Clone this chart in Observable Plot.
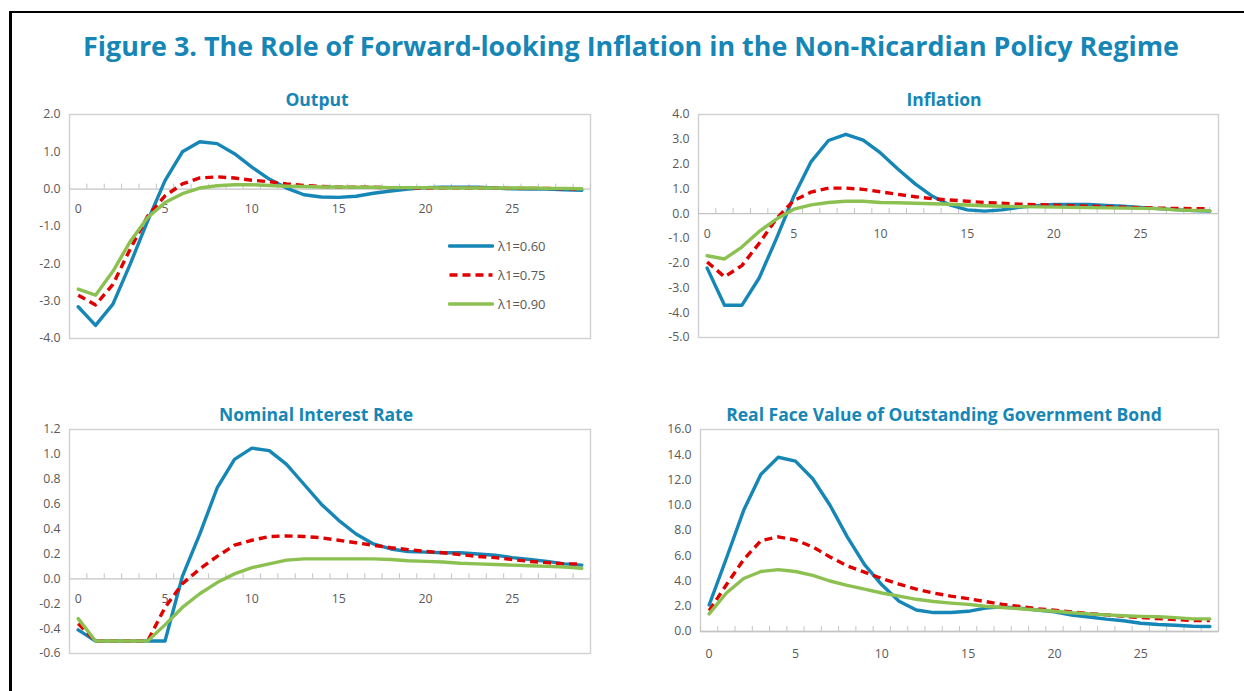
<!DOCTYPE html>
<html><head><meta charset="utf-8">
<script src="https://cdn.jsdelivr.net/npm/d3@7"></script>
<script src="https://cdn.jsdelivr.net/npm/@observablehq/plot@0.6"></script>
<style>
body{margin:0;background:#fff;}
#page{position:relative;width:1244px;height:691px;overflow:hidden;font-family:"Open Sans",sans-serif;background:#fff;}
#border{position:absolute;left:9px;top:11px;width:1250px;height:720px;border-left:3px solid #000;border-top:2px solid #000;}
#title{position:absolute;left:0;width:1262px;top:28px;line-height:36px;text-align:center;font-weight:700;font-size:26.9px;color:#1586b6;white-space:nowrap;}
.ptitle{position:absolute;width:500px;text-align:center;font-weight:700;font-size:17.5px;line-height:20px;color:#1586b6;white-space:nowrap;}
.panel{position:absolute;}
#legend{position:absolute;left:448px;top:231px;font-size:13px;color:#595959;}
#legend .row{display:flex;align-items:center;height:29px;}
#legend svg{margin-right:4px;}
</style>
</head><body>
<div id="page">
  <div id="border"></div>
  <div id="title">Figure 3. The Role of Forward-looking Inflation in the Non-Ricardian Policy Regime</div>
  <div class="ptitle" style="left:67px;top:89px;">Output</div>
  <div class="ptitle" style="left:694px;top:89px;">Inflation</div>
  <div class="ptitle" style="left:66px;top:404px;">Nominal Interest Rate</div>
  <div class="ptitle" style="left:694px;top:404px;">Real Face Value of Outstanding Government Bond</div>
  <div id="p1" class="panel" style="left:20px;top:104px;"></div>
  <div id="p2" class="panel" style="left:650px;top:104px;"></div>
  <div id="p3" class="panel" style="left:20px;top:419px;"></div>
  <div id="p4" class="panel" style="left:650px;top:419px;"></div>
  <div id="legend"></div>
</div>
<script>
// ---------- data ----------
const periods = [0,1,2,3,4,5,6,7,8,9,10,11,12,13,14,15,16,17,18,19,20,21,22,23,24,25,26,27,28,29];
const seriesNames = ["λ1=0.60", "λ1=0.75", "λ1=0.90"];
const xTickLabels = [0, 5, 10, 15, 20, 25];

const outputL60 = [-3.15,-3.65,-3.08,-2.0,-0.85,0.23,1.0,1.27,1.22,0.95,0.59,0.27,0.03,-0.15,-0.21,-0.22,-0.19,-0.11,-0.05,0.0,0.04,0.05,0.05,0.05,0.03,0.01,0.0,0.0,-0.02,-0.03];
const outputL75 = [-2.84,-3.1,-2.55,-1.6,-0.72,-0.18,0.14,0.3,0.33,0.3,0.24,0.2,0.14,0.1,0.07,0.06,0.05,0.05,0.04,0.04,0.03,0.03,0.03,0.03,0.03,0.02,0.02,0.02,0.01,0.0];
const outputL90 = [-2.68,-2.84,-2.2,-1.4,-0.76,-0.36,-0.12,0.03,0.09,0.12,0.12,0.1,0.08,0.07,0.06,0.06,0.05,0.05,0.04,0.04,0.04,0.03,0.03,0.03,0.03,0.03,0.03,0.02,0.02,0.01];

const inflationL60 = [-2.2,-3.7,-3.7,-2.6,-1.0,0.7,2.1,2.95,3.2,2.97,2.45,1.8,1.2,0.7,0.35,0.15,0.1,0.15,0.25,0.32,0.37,0.37,0.37,0.33,0.3,0.25,0.2,0.16,0.12,0.1];
const inflationL75 = [-1.95,-2.55,-2.1,-1.2,-0.2,0.53,0.87,1.03,1.03,0.98,0.88,0.78,0.68,0.6,0.55,0.5,0.45,0.42,0.38,0.36,0.34,0.32,0.3,0.28,0.26,0.24,0.22,0.21,0.2,0.2];
const inflationL90 = [-1.7,-1.83,-1.35,-0.72,-0.22,0.18,0.35,0.45,0.5,0.5,0.45,0.44,0.42,0.4,0.38,0.35,0.32,0.3,0.28,0.27,0.26,0.25,0.24,0.23,0.22,0.21,0.2,0.15,0.13,0.12];

const rateL60 = [-0.41,-0.5,-0.5,-0.5,-0.5,-0.5,0.02,0.36,0.73,0.96,1.05,1.03,0.92,0.76,0.6,0.47,0.36,0.28,0.24,0.22,0.215,0.21,0.21,0.2,0.19,0.17,0.155,0.14,0.12,0.11];
const rateL75 = [-0.36,-0.5,-0.5,-0.5,-0.5,-0.23,-0.04,0.08,0.18,0.27,0.31,0.34,0.345,0.34,0.33,0.31,0.29,0.27,0.25,0.235,0.22,0.21,0.195,0.18,0.17,0.155,0.14,0.13,0.12,0.12];
const rateL90 = [-0.32,-0.5,-0.5,-0.5,-0.5,-0.37,-0.23,-0.12,-0.03,0.04,0.09,0.12,0.15,0.16,0.16,0.16,0.16,0.16,0.155,0.145,0.14,0.135,0.125,0.12,0.115,0.11,0.105,0.1,0.095,0.085];

const bondL60 = [2.1,5.8,9.6,12.45,13.8,13.5,12.1,10.0,7.5,5.3,3.7,2.4,1.7,1.5,1.5,1.6,1.85,1.95,1.85,1.7,1.55,1.3,1.15,0.98,0.85,0.65,0.55,0.5,0.42,0.4];
const bondL75 = [1.65,3.7,5.7,7.2,7.5,7.25,6.7,5.9,5.2,4.7,4.2,3.75,3.35,3.05,2.8,2.6,2.37,2.15,1.98,1.8,1.68,1.55,1.42,1.32,1.2,1.1,1.02,0.95,0.87,0.87];
const bondL90 = [1.4,3.05,4.2,4.75,4.9,4.75,4.45,4.0,3.65,3.35,3.05,2.8,2.55,2.38,2.25,2.15,2.0,1.9,1.8,1.7,1.6,1.48,1.4,1.32,1.25,1.2,1.17,1.1,1.0,1.0];

const outputTicks = [-4,-3,-2,-1,0,1,2];
const inflationTicks = [-5,-4,-3,-2,-1,0,1,2,3,4];
const rateTicks = [-0.6,-0.4,-0.2,0,0.2,0.4,0.6,0.8,1.0,1.2];
const bondTicks = [0,2,4,6,8,10,12,14,16];

// ---------- styling ----------
const colors = ["#1586b6", "#e00000", "#8cc152"];
const dashes = [null, "8,5", null];
const font = "'Open Sans', sans-serif";
const gray = "#595959";

function makePanel(cfg) {
  const lists = cfg.lists;
  const rows = [];
  lists.forEach((vals, s) => vals.forEach((v, i) => rows.push({t: periods[i], v, s})));
  const boundaries = periods.map(p => p - 0.5).concat([periods[periods.length - 1] + 0.5]);
  const lineMarks = [0, 1, 2].map(s => Plot.line(rows.filter(r => r.s === s), {
    x: "t", y: "v", stroke: colors[s], strokeWidth: 3.4,
    strokeDasharray: dashes[s] || undefined, strokeLinejoin: "round", strokeLinecap: dashes[s] ? "butt" : "round"
  }));
  return Plot.plot({
    width: cfg.width, height: cfg.height,
    marginTop: cfg.mt, marginBottom: cfg.mb, marginLeft: cfg.ml, marginRight: cfg.mr,
    style: {fontFamily: font, fontSize: "12px", color: gray, background: "transparent"},
    x: {domain: [-0.5, 29.5], axis: null},
    y: {domain: cfg.yDomain, axis: null},
    marks: [
      Plot.frame({stroke: "#d0d0d0", strokeWidth: 1.4}),
      Plot.axisY(cfg.yTicks, {tickSize: 0, tickPadding: 9, tickFormat: d => d.toFixed(1), fill: gray, fontSize: 12.3, label: null}),
      Plot.ruleY([cfg.axisAt], {stroke: "#c4c4c4", strokeWidth: 1.3}),
      Plot.ruleX(boundaries, {x: d => d, y1: cfg.axisAt, y2: cfg.axisAt, insetTop: -5, stroke: "#c4c4c4", strokeWidth: 1}),
      Plot.text(xTickLabels, {x: d => d, y: cfg.axisAt, dy: cfg.labelDy, text: d => String(d), fill: gray, fontSize: 12.3}),
      ...lineMarks
    ]
  });
}

document.getElementById("p1").append(makePanel({
  lists: [outputL60, outputL75, outputL90], yDomain: [-4, 2], yTicks: outputTicks, axisAt: 0, labelDy: 20,
  width: 580, height: 256, mt: 10, mb: 22, ml: 49, mr: 10
}));
document.getElementById("p2").append(makePanel({
  lists: [inflationL60, inflationL75, inflationL90], yDomain: [-5, 4], yTicks: inflationTicks, axisAt: 0, labelDy: 20,
  width: 578, height: 255, mt: 10, mb: 22, ml: 48, mr: 10
}));
document.getElementById("p3").append(makePanel({
  lists: [rateL60, rateL75, rateL90], yDomain: [-0.6, 1.2], yTicks: rateTicks, axisAt: 0, labelDy: 20,
  width: 580, height: 254, mt: 10, mb: 20, ml: 49, mr: 10
}));
document.getElementById("p4").append(makePanel({
  lists: [bondL60, bondL75, bondL90], yDomain: [0, 16], yTicks: bondTicks, axisAt: 0, labelDy: 23,
  width: 578, height: 250, mt: 10, mb: 38, ml: 50, mr: 10
}));

// legend
const legend = document.getElementById("legend");
seriesNames.forEach((name, s) => {
  const row = document.createElement("div");
  row.className = "row";
  row.innerHTML = `<svg width="46" height="6"><line x1="1.5" x2="44.5" y1="3" y2="3" stroke="${colors[s]}" stroke-width="3.4" stroke-linecap="${dashes[s] ? "butt" : "round"}" ${dashes[s] ? `stroke-dasharray="${dashes[s]}"` : ""}/></svg><span>${name}</span>`;
  legend.append(row);
});
</script>
</body></html>
